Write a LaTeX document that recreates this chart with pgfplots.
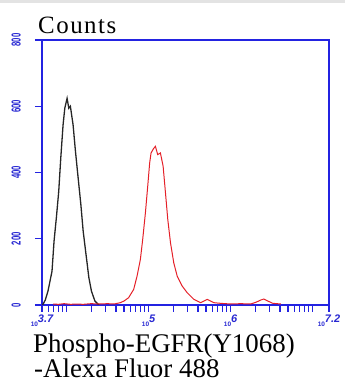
\documentclass[border=0pt]{standalone}
\usepackage{pgfplots}
\pgfplotsset{compat=1.18}
\usepackage{fontspec}
\setmainfont{Liberation Serif}
\newfontfamily\tickfont{Liberation Sans}
\definecolor{axblue}{RGB}{35,35,225}
\definecolor{tkblue}{RGB}{40,40,210}
\definecolor{histred}{RGB}{228,32,40}
\newcommand\xtl[1]{{\tickfont\bfseries\fontsize{6.5}{6.5}\selectfont 10}\raisebox{3.5bp}{\tickfont\bfseries\itshape\fontsize{11}{11}\selectfont #1}}
\newcommand\ytl[1]{\scalebox{0.6}[1]{\tickfont\bfseries\fontsize{13}{13}\selectfont #1}}
\begin{document}
\begin{tikzpicture}[x=1bp,y=1bp]
\path[use as bounding box] (0,0) rectangle (345,381);
\fill[gray!22] (0,378) rectangle (345,381);
\begin{axis}[
  at={(42bp,76bp)}, anchor=south west,
  scale only axis, width=287bp, height=265bp,
  xmin=3.7, xmax=7.2, ymin=0, ymax=800,
  axis line style={axblue, line width=1.4bp},
  every tick/.style={axblue, line width=1.2bp},
  tick align=outside,
  major tick length=7bp, minor tick length=7bp,
  xtick={3.7,5,6,7.2},
  xticklabels={\xtl{3.7},\xtl{5},\xtl{6},\xtl{7.2}},
  minor xtick={3.778,3.845,3.903,3.954,4,4.301,4.477,4.602,4.699,4.778,4.845,4.903,4.954,5.301,5.477,5.602,5.699,5.778,5.845,5.903,5.954,6.301,6.477,6.602,6.699,6.778,6.845,6.903,6.954,7},
  ytick={0,200,400,600,800},
  yticklabels={\ytl{0},\ytl{200},\ytl{400},\ytl{600},\ytl{800}},
  xticklabel style={text=tkblue, inner sep=0pt, anchor=north, yshift=-3bp},
  yticklabel style={text=tkblue, xshift=-14bp, rotate=90, anchor=south, inner sep=0pt},
  xtick pos=bottom, ytick pos=left,
  clip=true,
]
\addplot[black!85, line width=1.3bp, sharp plot] coordinates {
(3.700,0)(3.712,2)(3.740,15)(3.773,42)(3.800,75)(3.822,102)(3.847,193)(3.875,263)(3.904,343)(3.929,444)(3.957,544)(3.978,594)(4.006,624)(4.027,594)(4.046,600)(4.079,544)(4.108,464)(4.141,383)(4.174,303)(4.202,223)(4.242,142)(4.272,82)(4.303,42)(4.345,12)(4.385,2)(4.400,0)
};
\addplot[histred, line width=1.0bp, sharp plot] coordinates {
(3.835,3)(3.90,2)(3.97,4)(4.05,2)(4.12,3)(4.20,2)(4.30,4)(4.40,3)(4.50,4)(4.58,3)(4.655,7)(4.700,12)(4.756,22)(4.818,47)(4.859,87)(4.900,138)(4.928,198)(4.961,278)(4.989,358)(5.013,429)(5.030,459)(5.060,472)(5.083,479)(5.111,454)(5.144,459)(5.177,419)(5.206,338)(5.234,258)(5.267,188)(5.307,127)(5.349,87)(5.410,57)(5.471,37)(5.552,17)(5.634,7)(5.716,17)(5.797,7)(5.879,5)(6.001,3)(6.124,4)(6.246,3)(6.307,8)(6.368,15)(6.405,18)(6.454,12)(6.515,5)(6.613,3)
};
\end{axis}
\node[anchor=base west, inner sep=0pt] at (38,348) {\addfontfeature{LetterSpace=6}\fontsize{25}{25}\selectfont Counts};
\node[anchor=base west, inner sep=0pt] at (33,28.5) {\fontsize{27}{27}\selectfont Phospho-EGFR(Y1068)};
\node[anchor=base west, inner sep=0pt, text depth=0pt] at (34,3.5) {\fontsize{27}{27}\selectfont -Alexa Fluor 488};
\end{tikzpicture}
\end{document}
